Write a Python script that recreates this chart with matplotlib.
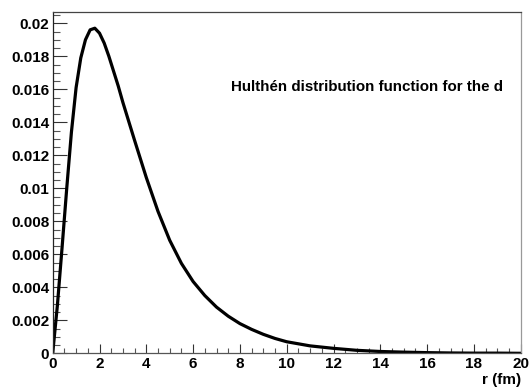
import matplotlib
matplotlib.use("Agg")
import matplotlib.pyplot as plt
from matplotlib.ticker import MultipleLocator, FuncFormatter

# radial distance (fm) and distribution value
r_fm = [0.0, 0.2, 0.4, 0.6, 0.8, 1.0, 1.2, 1.4, 1.6, 1.8, 2.0, 2.2, 2.4, 2.6,
        2.8, 3.0, 3.5, 4.0, 4.5, 5.0, 5.5, 6.0, 6.5, 7.0, 7.5, 8.0, 8.5,
        9.0, 9.5, 10.0, 11.0, 12.0, 13.0, 14.0, 15.0, 16.0, 17.0, 18.0,
        19.0, 20.0]
density = [0.0, 0.0029, 0.0064, 0.0100, 0.0134, 0.0161, 0.0179, 0.0190,
           0.0196, 0.0197, 0.0194, 0.0188, 0.0180, 0.0171, 0.0162, 0.0152,
           0.0129, 0.01065, 0.0086, 0.00685, 0.00545, 0.00435, 0.0035,
           0.0028, 0.00225, 0.0018, 0.00145, 0.00115, 0.0009, 0.0007,
           0.00045, 0.0003, 0.00018, 0.00011, 0.00007, 0.00004, 0.00002,
           0.00001, 0.00001, 0.0]

title_text = "Hulthén distribution function for the d"
x_label = "r (fm)"

plt.rcParams["font.family"] = ["Liberation Sans", "DejaVu Sans"]
plt.rcParams["font.weight"] = "bold"

fig = plt.figure(figsize=(5.29, 3.87), dpi=100)
ax = fig.add_axes([52.7 / 529, 1 - 353.3 / 387, (520.7 - 52.7) / 529,
                   (353.3 - 11.7) / 387])

ax.plot(r_fm, density, color="black", lw=2.3, solid_joinstyle="round",
        solid_capstyle="round")

ax.set_xlim(0, 20)
ax.set_ylim(0, 0.0207)

ax.xaxis.set_major_locator(MultipleLocator(2))
ax.xaxis.set_minor_locator(MultipleLocator(0.5))
ax.yaxis.set_major_locator(MultipleLocator(0.002))
ax.yaxis.set_minor_locator(MultipleLocator(0.0005))
ax.yaxis.set_major_formatter(FuncFormatter(lambda v, p: "%g" % round(v, 4)))
ax.xaxis.set_major_formatter(FuncFormatter(lambda v, p: "%g" % v))

ax.tick_params(axis="y", which="major", direction="in", length=10, width=0.8,
               color="#333333", pad=2.5, labelsize=11)
ax.tick_params(axis="y", which="minor", direction="in", length=5, width=0.8,
               color="#555555")
ax.tick_params(axis="x", which="major", direction="in", length=6.5, width=0.8,
               color="#333333", pad=3, labelsize=11)
ax.tick_params(axis="x", which="minor", direction="in", length=3.6, width=0.8,
               color="#555555")
for lab in ax.get_xticklabels() + ax.get_yticklabels():
    lab.set_fontweight("bold")

ax.spines["left"].set_color("#222222")
ax.spines["bottom"].set_color("#555555")
ax.spines["top"].set_color("#444444")
ax.spines["right"].set_color("#999999")
for s in ax.spines.values():
    s.set_linewidth(0.9)

ax.text(503 / 529, 1 - 87 / 387, title_text, transform=fig.transFigure,
        ha="right", va="center", fontsize=10.9, fontweight="bold")
ax.text(520.7 / 529, 1 - 380 / 387, x_label, transform=fig.transFigure,
        ha="right", va="center", fontsize=11, fontweight="bold")

fig.savefig("out.png", dpi=100, facecolor="white")
